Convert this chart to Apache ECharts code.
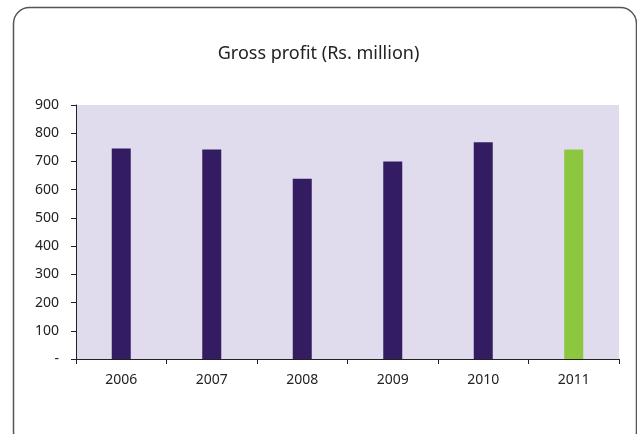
<!DOCTYPE html>
<html>
<head>
<meta charset="utf-8">
<script src="https://cdn.jsdelivr.net/npm/echarts@6/dist/echarts.min.js"></script>
<style>
  html, body { margin: 0; padding: 0; background: #ffffff; }
  #chart { width: 637px; height: 434px; }
</style>
</head>
<body>
<div id="chart"></div>
<script>
// Gross profit by year, Rs. million
const years = ['2006', '2007', '2008', '2009', '2010', '2011'];
const grossProfit = [746, 742, 639, 700, 768, 742];
const yTickLabels = ['-', '100', '200', '300', '400', '500', '600', '700', '800', '900'];

const purple = '#341c62';
const green = '#8dc63f';

const chart = echarts.init(document.getElementById('chart'), null, { renderer: 'canvas' });

chart.setOption({
  animation: false,
  backgroundColor: '#ffffff',
  title: {
    text: 'Gross profit (Rs. million)',
    left: 'center',
    top: 40,
    textStyle: {
      fontFamily: 'Noto Sans',
      fontSize: 18,
      fontWeight: 'normal',
      color: '#222222'
    }
  },
  graphic: [{
    type: 'rect',
    left: 11,
    top: 5,
    shape: { width: 623, height: 440, r: 16 },
    style: { fill: 'none', stroke: '#555555', lineWidth: 1.5 },
    z: 100
  }],
  grid: {
    left: 76,
    right: 18,
    top: 105,
    bottom: 75,
    show: true,
    backgroundColor: '#e0dcee',
    borderWidth: 0
  },
  xAxis: {
    type: 'category',
    data: years,
    axisLine: { show: true, lineStyle: { color: '#222222', width: 1 } },
    axisTick: { show: true, alignWithLabel: false, length: 5, lineStyle: { color: '#222222' } },
    axisLabel: {
      margin: 14,
      fontFamily: 'Noto Sans',
      fontSize: 14,
      color: '#222222'
    }
  },
  yAxis: {
    type: 'value',
    min: 0,
    max: 900,
    interval: 100,
    axisLine: { show: true, lineStyle: { color: '#222222', width: 1 } },
    axisTick: { show: true, length: 5, lineStyle: { color: '#222222' } },
    splitLine: { show: false },
    axisLabel: {
      margin: 17,
      fontFamily: 'Noto Sans',
      fontSize: 14,
      color: '#222222',
      formatter: function (v) { return yTickLabels[Math.round(v / 100)]; }
    }
  },
  series: [{
    type: 'bar',
    data: grossProfit.map(function (v, i) {
      return { value: v, itemStyle: { color: i === years.length - 1 ? green : purple } };
    }),
    barWidth: 19
  }]
});
</script>
</body>
</html>
